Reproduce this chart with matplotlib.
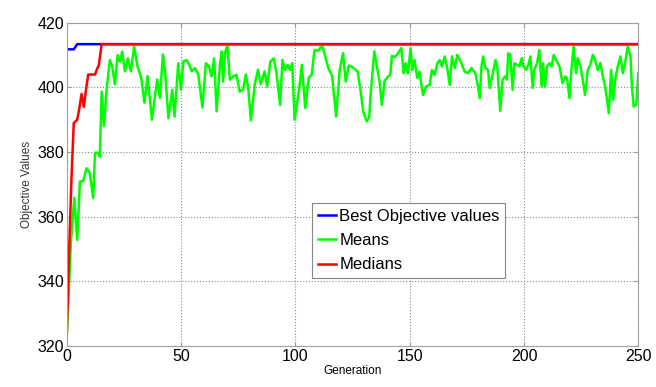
import matplotlib
matplotlib.use("Agg")
import matplotlib.pyplot as plt

plt.rcParams['font.family'] = ['Liberation Sans', 'DejaVu Sans']

# best objective value per generation
best_gen = [0, 3, 4.5, 250]
best_val = [411.8, 411.8, 413.4, 413.4]

# median of the population
median_gen = [0, 1, 2, 3, 4.5, 5.3, 6.4, 7.4, 8.3, 9.3, 12.3, 13, 14, 15.2, 250]
median_val = [324.5, 350, 372, 389, 390, 393, 398, 394, 399, 404, 404, 405.4, 407, 413.4, 413.4]

# mean of the population
mean_gen = [0, 1.75, 3.2, 4.5, 5.7, 7.1, 8.6, 10, 11.5, 12.3, 13.7, 14.4, 15.2, 16.2,
            17.4, 18.8, 19.8, 21, 22.2, 23.2, 24.2, 25.4, 26.7, 28, 29.4, 30.9, 32.5,
            33.9, 35.3, 37.2, 39.5, 40.7, 42, 42.9, 44.4, 46.1, 47.1, 48.7, 49.9, 50.9,
            52.4, 53.8, 54.6, 56, 57.5, 59.3, 60.8, 62.2, 63.3, 64.4, 65.5, 67, 67.7,
            68.3, 69.3, 70.2, 71.3, 72.8, 74.2, 75.6, 77.1, 78.3, 79.4, 80.5, 82.2,
            83.6, 84.8, 86.5, 87.6, 89, 90.5, 91.7, 93.3, 94.3, 95.4, 96.6, 97.6, 98.6,
            99.6, 101.6, 102.8, 104.3, 105.8, 107.1, 108.3, 110.1, 111.6, 113, 114.5,
            116, 117.8, 119.4, 120.8, 122, 123.3, 125, 127.2, 128.5, 129.7, 131.2,
            132.3, 132.8, 134.5, 135.8, 136.8, 137.8, 139, 140.5, 141.5, 142.2, 143.5,
            144.9, 146.3, 147.3, 148.2, 149.2, 150.4, 151.1, 152.1, 153.3, 154.3, 155,
            155.8, 157.2, 158.7, 159.7, 160.9, 162.1, 163.1, 164.1, 165.3, 166.4, 167.5,
            168.5, 169.7, 170.8, 172.6, 174, 175.5, 177, 178.7, 179.6, 180.6, 181.4,
            182.1, 183.1, 184.3, 185, 186.5, 187.5, 188.3, 189.6, 190.6, 191.7, 192.5,
            193.1, 194, 195, 195.8, 196.9, 198, 199, 199.8, 200.9, 201.9, 202.8, 203.8,
            204.5, 205.7, 206.7, 207.7, 208.3, 209.2, 210.1, 211.1, 212.1, 213, 214,
            215.5, 216.9, 218, 218.8, 219.9, 220.6, 221.7, 222.8, 223.5, 224.7, 225.7,
            226.7, 227.9, 229, 230.1, 231.1, 232.3, 233.4, 234.5, 235.5, 237.1, 238.1,
            239, 239.9, 241, 242.2, 243.2, 244.2, 245.4, 246.6, 247.2, 248, 249.1, 250]
mean_val = [324, 352, 365.8, 352.8, 370.9, 371, 375, 373.5, 365.8, 379.8, 379.8, 378.6,
            398.7, 388, 399.5, 408.5, 406.5, 401, 410, 408, 411.1, 405, 409, 405, 412.7,
            406.5, 403, 395.3, 403.5, 390, 402.5, 396.8, 410.2, 405.4, 390.5, 399.3, 391,
            407.5, 399.3, 408, 408.5, 406.5, 405, 406, 403.9, 393.8, 407.5, 406.5, 403.4,
            409, 392.6, 407.5, 411.1, 401.8, 411.1, 413, 402.4, 403.4, 403.9, 398.7,
            399.3, 404, 399.3, 389.8, 401, 405.5, 401, 405, 400.3, 408, 409, 404.4, 394.6,
            408.5, 405.4, 407, 405.4, 407.5, 390, 399.3, 407, 393.6, 403, 404, 411.5,
            411.4, 413.2, 409.6, 405.7, 403.7, 391, 405.5, 410.6, 401.8, 406.8, 406.3,
            404.9, 399, 392.3, 389.5, 390.8, 397.2, 411.2, 405.7, 401.8, 394.6, 402,
            403.4, 404, 409.8, 409.4, 410.6, 412.2, 404.4, 407.5, 404.4, 412.2, 405.4,
            408.5, 402.9, 404.9, 401.3, 397.7, 400.3, 400.8, 405.4, 403.9, 407.5, 408.5,
            406.5, 409.6, 406, 400.8, 409.6, 406, 410.1, 407.5, 404.9, 404.4, 406, 404.4,
            401.3, 396.7, 406.5, 409.6, 406, 405.4, 399.8, 404.9, 408.5, 406.5, 392.8,
            402.4, 403.4, 402.4, 410.6, 410.1, 399.2, 407.5, 407, 406.5, 409.1, 406.5,
            405.4, 407, 409.6, 399.8, 405.4, 407.5, 411.6, 400.3, 407.5, 400.3, 406.5,
            407.5, 406.5, 410.1, 408.5, 406.5, 401.3, 403.4, 402.9, 396.7, 404.4, 412.7,
            404.4, 409.1, 406.5, 402.4, 397.7, 405.4, 407, 410.1, 408.5, 405.4, 407.5,
            403.4, 400.3, 392, 405.4, 396.2, 402.4, 406.5, 409.6, 404.4, 407.5, 412.7,
            409.6, 400.3, 394.1, 394.6, 404.4]

fig = plt.figure(figsize=(6.56, 3.87), dpi=100)
ax = fig.add_axes([0.102, 0.106, 0.871, 0.835])

ax.plot(best_gen, best_val, color='#0000ff', lw=1.8, label='Best Objective values')
ax.plot(mean_gen, mean_val, color='#00ff00', lw=1.8, label='Means')
ax.plot(median_gen, median_val, color='#ff0000', lw=1.8, label='Medians')

ax.set_xlim(0, 250)
ax.set_ylim(320, 420)
ax.set_xticks([0, 50, 100, 150, 200, 250])
ax.set_yticks([320, 340, 360, 380, 400, 420])
ax.grid(True, linestyle=':', color='#8c8c8c', lw=0.8)
ax.tick_params(direction='in', top=True, right=True, length=3, color='#999999',
               labelsize=11.5, pad=2)
for s in ax.spines.values():
    s.set_color('#a0a0a0')

ax.set_xlabel('Generation', fontsize=8.5, labelpad=1)
ax.set_ylabel('Objective Values', fontsize=8.5, color='#333333', labelpad=3)

leg = ax.legend(loc='upper left', bbox_to_anchor=(0.4285, 0.4418), borderaxespad=0,
                fancybox=False, framealpha=1, edgecolor='#888888', fontsize=12,
                handlelength=1.1, handletextpad=0.2, borderpad=0.35, labelspacing=0.55)
leg.get_frame().set_linewidth(0.8)

fig.savefig('out.png', dpi=100)
